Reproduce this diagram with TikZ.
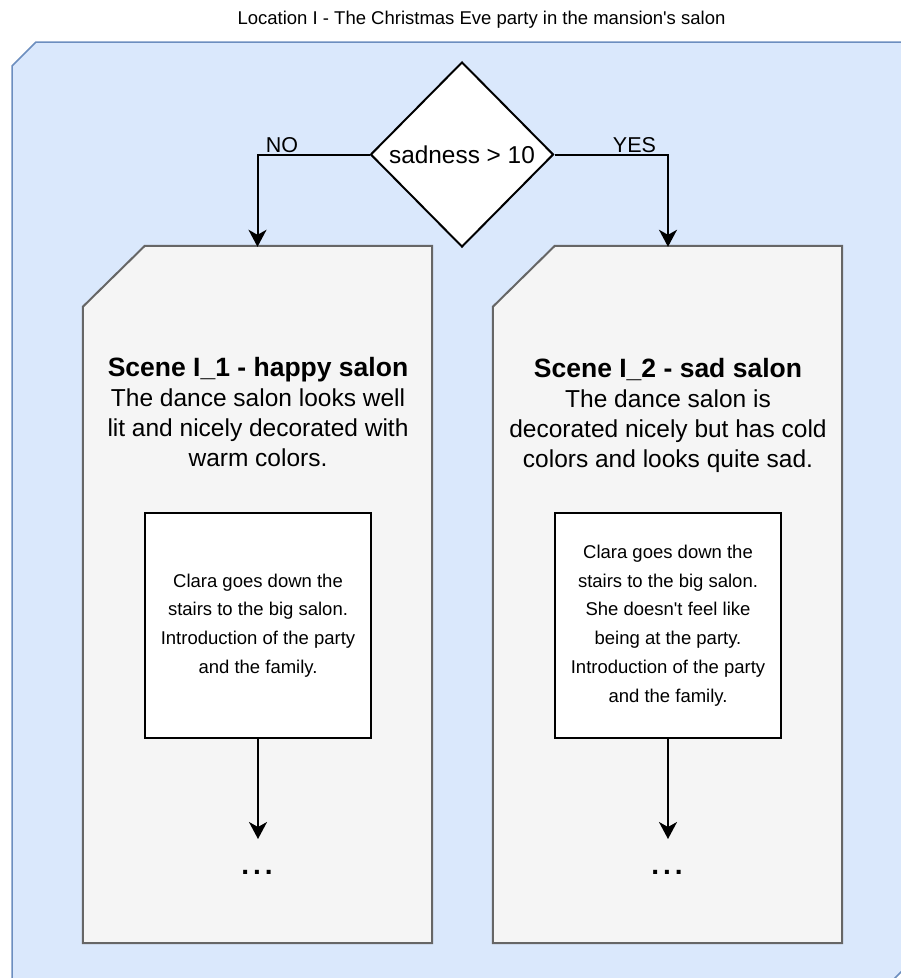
\documentclass[tikz,border=0pt]{standalone}
\usepackage{fontspec}
\setmainfont{Liberation Sans}
\usetikzlibrary{shapes.geometric,arrows.meta}
\definecolor{contfill}{HTML}{DAE8FC}
\definecolor{contline}{HTML}{6C8EBF}
\definecolor{cardfill}{HTML}{F5F5F5}
\definecolor{cardline}{HTML}{666666}
\newcommand{\spaceddots}{.\hspace{3.9pt}.\hspace{3.9pt}.}
\begin{document}
\begin{tikzpicture}[x=1pt,y=-1pt,
  cont/.style={fill=contfill,draw=contline,line width=1.5pt},
  card/.style={fill=cardfill,draw=cardline,line width=2pt},
  cardarea/.style={minimum width=349pt,minimum height=697pt,inner sep=0pt},
  scenetext/.style={align=center,font=\fontsize{24.5}{30}\selectfont},
  inbox/.style={draw=black,fill=white,line width=2pt,minimum width=226pt,minimum height=225pt,inner sep=0pt,align=center,font=\fontsize{18.5}{28.7}\selectfont},
  decision/.style={diamond,draw=black,fill=white,line width=2pt,minimum width=183pt,minimum height=185pt,inner sep=0pt,font=\fontsize{24.4}{29}\selectfont},
  arr/.style={line width=2pt,-{Stealth[length=17pt,width=18pt,inset=5pt]}},
  lbl/.style={font=\fontsize{21.5}{25}\selectfont,inner sep=0pt,anchor=base},
  dotsstyle/.style={font=\bfseries\fontsize{28}{32}\selectfont,inner sep=0pt,anchor=base},
  titlestyle/.style={font=\fontsize{18.5}{22}\selectfont,inner sep=0pt}
]
\clip (0,0) rectangle (901,978);
\fill[white] (0,0) rectangle (901,978);

% container
\draw[cont] (36,42) -- (951,42) -- (951,922) -- (873,1000) -- (12,1000) -- (12,66) -- cycle;
\node[titlestyle] (title) at (481.5,20) {Location I - The Christmas Eve party in the mansion\textquotesingle s salon};

% scene cards
\node[cardarea] (c1) at (257.5,594.5) {};
\node[cardarea] (c2) at (667.5,594.5) {};
\draw[card] ([yshift=-61pt]c1.north west) -- ([xshift=62pt]c1.north west) -- (c1.north east) -- (c1.south east) -- (c1.south west) -- cycle;
\draw[card] ([yshift=-61pt]c2.north west) -- ([xshift=62pt]c2.north west) -- (c2.north east) -- (c2.south east) -- (c2.south west) -- cycle;

\node[scenetext] (t1) at (258,412) {{\fontsize{26.5}{30}\selectfont\bfseries Scene I\_1 - happy salon}\\The dance salon looks well\\lit and nicely decorated with\\warm colors.};
\node[scenetext] (t2) at (668,415) {{\fontsize{26.5}{30}\selectfont\bfseries Scene I\_2 - sad salon}\\The dance salon is\\decorated nicely but has cold\\colors and looks quite sad.};

% inner boxes
\node[inbox] (b1) at (258,625.5) {Clara goes down the\\stairs to the big salon.\\Introduction of the party\\and the family.};
\node[inbox] (b2) at (668,625.5) {Clara goes down the\\stairs to the big salon.\\She doesn\textquotesingle t feel like\\being at the party.\\Introduction of the party\\and the family.};

\coordinate (e1) at (258,839);
\coordinate (e2) at (668,839);
\node[dotsstyle] (d1) at (257,874.5) {\spaceddots};
\node[dotsstyle] (d2) at (667,874.5) {\spaceddots};
\draw[arr] (b1.south) -- (e1);
\draw[arr] (b2.south) -- (e2);

% decision
\node[decision] (dec) at (462,154.5) {sadness > 10};
\draw[arr] (dec.west) -| ([yshift=-1pt]c1.north);
\draw[arr] (dec.east) -| ([xshift=0.5pt,yshift=-1pt]c2.north);
\node[lbl] (no) at (282,152) {NO};
\node[lbl] (yes) at (634.5,152) {YES};
\end{tikzpicture}
\end{document}
